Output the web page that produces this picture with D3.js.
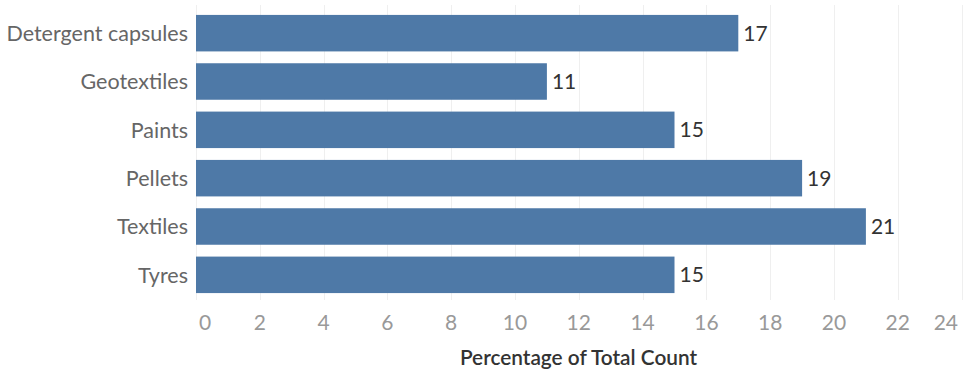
<!DOCTYPE html>
<html>
<head>
<meta charset="utf-8">
<script src="https://cdn.jsdelivr.net/npm/d3@7"></script>
<style>
  html, body { margin: 0; padding: 0; background: #fff; }
  svg { display: block; }
</style>
</head>
<body>
<svg id="chart" width="963" height="374"></svg>
<script>
const categories = ["Detergent capsules", "Geotextiles", "Paints", "Pellets", "Textiles", "Tyres"];
const values = [17, 11, 15, 19, 21, 15];
const tickValues = [0, 2, 4, 6, 8, 10, 12, 14, 16, 18, 20, 22, 24];
const axisTitle = "Percentage of Total Count";

(function () {
const W = 963, H = 374;
const mLeft = 196;
const mTop = 9, mBottom = 299;
const font = "Lato, 'Open Sans', sans-serif";

const svg = d3.select("#chart");

const x = d3.scaleLinear().domain([0, 24]).range([mLeft, mLeft + 24 * 31.9]);
const y = d3.scaleBand().domain(categories).range([mTop, mBottom]).paddingInner(0.245).paddingOuter(0.1225);

// gridlines
svg.append("g").selectAll("line").data(tickValues).join("line")
  .attr("x1", d => Math.round(x(d)) + 0.5).attr("x2", d => Math.round(x(d)) + 0.5)
  .attr("y1", 5).attr("y2", 300)
  .attr("stroke", "#efefef").attr("stroke-width", 1);

// bars
svg.append("g").selectAll("rect").data(categories).join("rect")
  .attr("x", x(0))
  .attr("y", d => y(d))
  .attr("width", (d, i) => x(values[i]) - x(0))
  .attr("height", y.bandwidth())
  .attr("fill", "#4e79a7");

// value labels
svg.append("g").selectAll("text").data(categories).join("text")
  .attr("x", (d, i) => x(values[i]) + 5)
  .attr("y", d => y(d) + y.bandwidth() / 2)
  .attr("dy", "0.36em")
  .attr("font-family", font).attr("font-size", 21)
  .attr("fill", "#333")
  .text((d, i) => values[i]);

// category labels
svg.append("g").selectAll("text").data(categories).join("text")
  .attr("x", 188)
  .attr("y", d => y(d) + y.bandwidth() / 2)
  .attr("dy", "0.36em")
  .attr("text-anchor", "end")
  .attr("font-family", font).attr("font-size", 21.5)
  .attr("fill", "#666")
  .text(d => d);

// x tick labels
svg.append("g").selectAll("text").data(tickValues).join("text")
  .attr("x", d => d === 0 ? x(d) + 3 : (d === 24 ? 958 : x(d)))
  .attr("y", 330)
  .attr("text-anchor", d => d === 0 ? "start" : (d === 24 ? "end" : "middle"))
  .attr("font-family", font).attr("font-size", 21)
  .attr("fill", "#999")
  .text(d => d);

// axis title
svg.append("text")
  .attr("x", (mLeft + W) / 2 - 1)
  .attr("y", 365)
  .attr("text-anchor", "middle")
  .attr("font-family", font).attr("font-size", 20.8).attr("font-weight", 600)
  .attr("fill", "#333")
  .text(axisTitle);
})();
</script>
</body>
</html>
